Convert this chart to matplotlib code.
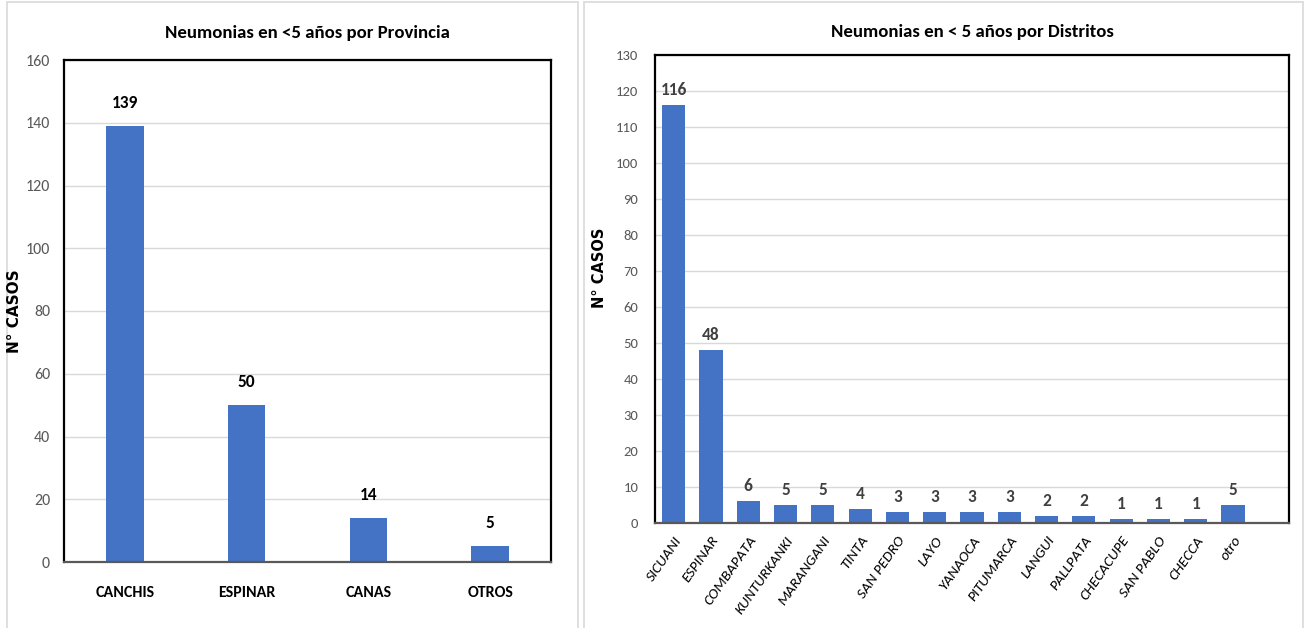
import matplotlib
matplotlib.use("Agg")
import matplotlib.pyplot as plt
from matplotlib.patches import Rectangle
from matplotlib import font_manager
from matplotlib.font_manager import FontProperties

# datos
provincias = ["CANCHIS", "ESPINAR", "CANAS", "OTROS"]
casos_prov = [139, 50, 14, 5]

distritos = ["SICUANI", "ESPINAR", "COMBAPATA", "KUNTURKANKI", "MARANGANI", "TINTA",
             "SAN PEDRO", "LAYO", "YANAOCA", "PITUMARCA", "LANGUI", "PALLPATA",
             "CHECACUPE", "SAN PABLO", "CHECCA", "otro"]
casos_dist = [116, 48, 6, 5, 5, 4, 3, 3, 3, 3, 2, 2, 1, 1, 1, 5]

BLUE = "#4472C4"
names = {f.name for f in font_manager.fontManager.ttflist}
FONT = "Carlito" if "Carlito" in names else "Lato"
plt.rcParams['font.family'] = [FONT, 'DejaVu Sans']


def has_italic(fam):
    try:
        path = font_manager.findfont(FontProperties(family=fam, style="italic"),
                                     fallback_to_default=False)
    except Exception:
        return False
    p = path.lower()
    return "italic" in p or "oblique" in p or p.endswith("i.ttf")


# fuente con cursiva real para las etiquetas de distritos
ITALIC, IT_SIZE = "DejaVu Sans", 9.5
for cand, size in [("Carlito", 11), ("Lato", 11), ("Open Sans", 9.8), ("Noto Sans", 9.8),
                   ("Roboto", 10), ("Liberation Sans", 10)]:
    if has_italic(cand):
        ITALIC, IT_SIZE = cand, size
        break

W, H = 1305, 628
fig = plt.figure(figsize=(W / 100, H / 100), dpi=100)
fig.patch.set_facecolor("white")


def fx(x):
    return x / W


def fy(y):
    return 1 - y / H


# marcos de los paneles
for x0, x1 in [(7, 578), (584, 1303)]:
    fig.patches.append(Rectangle((fx(x0), fy(H + 5)), fx(x1 - x0), (H + 3) / H,
                                 transform=fig.transFigure, facecolor="white",
                                 edgecolor="#d9d9d9", lw=1.2, zorder=-5))


def style_axes(ax):
    ax.set_facecolor("white")
    for s in ["top", "right", "left"]:
        ax.spines[s].set_color("black")
        ax.spines[s].set_linewidth(1.6)
    ax.spines["bottom"].set_color("#595959")
    ax.spines["bottom"].set_linewidth(1.6)
    ax.grid(axis="y", color="#d9d9d9", lw=1)
    ax.set_axisbelow(True)
    ax.tick_params(axis="y", length=0, labelsize=11.5, labelcolor="#595959", pad=10)
    ax.tick_params(axis="x", length=0)


# panel izquierdo
ax1 = fig.add_axes([fx(64), fy(562), fx(551 - 64), (562 - 60) / H])
style_axes(ax1)
x1 = range(len(provincias))
ax1.bar(x1, casos_prov, width=0.31, color=BLUE, zorder=2)
ax1.set_xlim(-0.5, len(provincias) - 0.5)
ax1.set_ylim(0, 160)
ax1.set_yticks(range(0, 161, 20))
ax1.set_xticks(list(x1))
ax1.set_xticklabels(provincias, fontsize=11.5, fontweight="bold", color="black")
ax1.tick_params(axis="x", pad=17)
for i, v in zip(x1, casos_prov):
    ax1.annotate(str(v), (i, v), xytext=(0, 11), textcoords="offset points",
                 ha="center", va="bottom", fontsize=12.5, fontweight="bold")
ax1.set_title("Neumonias en <5 años por Provincia", fontsize=13.5, fontweight="bold", pad=16)
ax1.set_ylabel("N° CASOS", fontsize=11, fontweight="bold", family="DejaVu Sans")
ax1.yaxis.set_label_coords((22 - 64) / (551 - 64), 0.5)

# panel derecho
ax2 = fig.add_axes([fx(655), fy(523), fx(1289 - 655), (523 - 55) / H])
style_axes(ax2)
x2 = range(len(distritos))
ax2.bar(x2, casos_dist, width=0.62, color=BLUE, zorder=2)
ax2.set_xlim(-0.5, len(distritos) + 0.5)
ax2.set_ylim(0, 130)
ax2.set_yticks(range(0, 131, 10))
ax2.tick_params(axis="y", labelsize=10.5, pad=12)
ax2.set_xticks(list(x2))
ax2.set_xticklabels(distritos, fontsize=IT_SIZE, style="italic", rotation=55,
                    ha="right", rotation_mode="anchor", color="black",
                    family=[ITALIC, "DejaVu Sans"])
ax2.tick_params(axis="x", pad=8)
for i, v in zip(x2, casos_dist):
    ax2.annotate(str(v), (i, v), xytext=(0, 5), textcoords="offset points",
                 ha="center", va="bottom", fontsize=12.5, fontweight="bold", color="#404040")
ax2.set_title("Neumonias en < 5 años por Distritos", fontsize=13.5, fontweight="bold", pad=13)
ax2.set_ylabel("N° CASOS", fontsize=10.5, fontweight="bold", family="DejaVu Sans")
ax2.yaxis.set_label_coords((607 - 655) / (1289 - 655), (523 - 268) / (523 - 55))

fig.savefig("out.png", dpi=100, facecolor="white")
